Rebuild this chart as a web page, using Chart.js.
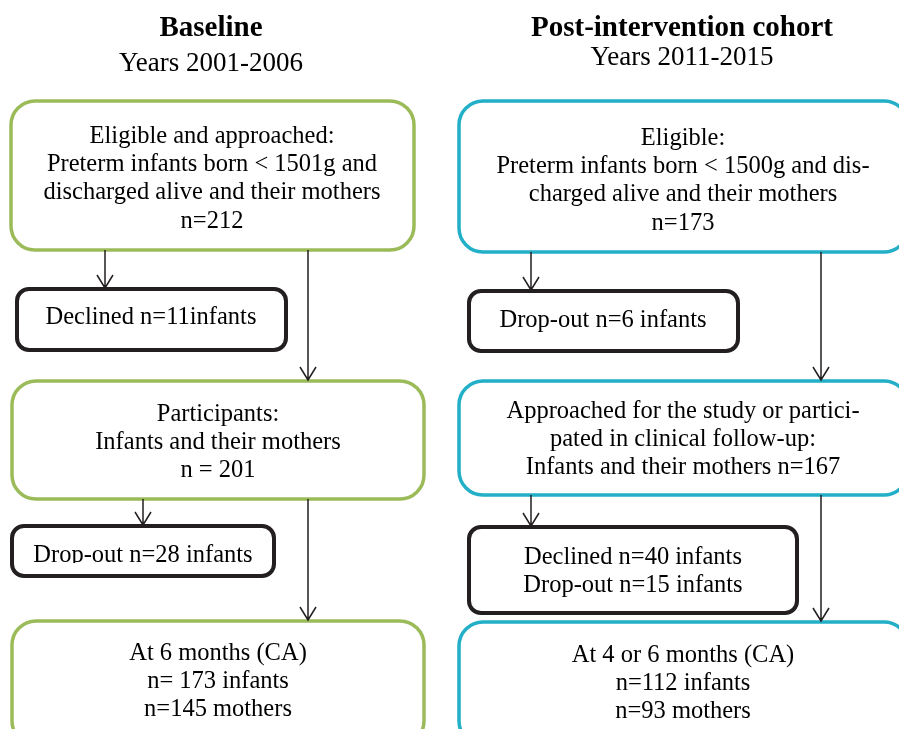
<!DOCTYPE html>
<html>
<head>
<meta charset="utf-8">
<script src="https://cdn.jsdelivr.net/npm/chart.js@4/dist/chart.umd.min.js"></script>
<style>
  html, body { margin: 0; padding: 0; background: #ffffff; }
  #wrap { width: 899px; height: 729px; }
</style>
</head>
<body>
<div id="wrap"><canvas id="flow" width="899" height="729"></canvas></div>
<script>
// Column headings
const cohortTitles = ["Baseline", "Post-intervention cohort"];
const cohortYears = ["Years 2001-2006", "Years 2011-2015"];

// Box texts, top to bottom, for each cohort
const baselineSteps = [
  ["Eligible and approached:", "Preterm infants born < 1501g and", "discharged alive and their mothers", "n=212"],
  ["Declined n=11infants"],
  ["Participants:", "Infants and their mothers", "n = 201"],
  ["Drop-out n=28 infants"],
  ["At 6 months (CA)", "n= 173 infants", "n=145 mothers"]
];
const postSteps = [
  ["Eligible:", "Preterm infants born < 1500g and dis-", "charged alive and their mothers", "n=173"],
  ["Drop-out n=6 infants"],
  ["Approached for the study or partici-", "pated in clinical follow-up:", "Infants and their mothers n=167"],
  ["Declined n=40 infants", "Drop-out n=15 infants"],
  ["At 4 or 6 months (CA)", "n=112 infants", "n=93 mothers"]
];

// Layout in diagram units (x 0..899, y 0..729 from top)
const FONT = "'Liberation Serif', 'Times New Roman', serif";
const GREEN = "#9bbb59";
const CYAN = "#22afc7";
const INK = "#231f20";

const headLayout = [
  { cx: 211, titleY: 36, yearsY: 71 },
  { cx: 682, titleY: 36, yearsY: 65 }
];
// x0, x1, y0, y1, text centre, first baseline, kind
const boxLayout = [
  [
    { x0: 11, x1: 414, y0: 101, y1: 250, cx: 212, ty: 143, kind: "main" },
    { x0: 17, x1: 286, y0: 289, y1: 350, cx: 151, ty: 324, kind: "side" },
    { x0: 12, x1: 424, y0: 381, y1: 499, cx: 218, ty: 421, kind: "main" },
    { x0: 12, x1: 274, y0: 526, y1: 576, cx: 143, ty: 562, kind: "side", clip: 563 },
    { x0: 12, x1: 424, y0: 621, y1: 745, cx: 218, ty: 660, kind: "main" }
  ],
  [
    { x0: 459, x1: 908, y0: 101, y1: 252, cx: 683, ty: 145, kind: "main" },
    { x0: 469, x1: 738, y0: 291, y1: 351, cx: 603, ty: 327, kind: "side" },
    { x0: 459, x1: 908, y0: 381, y1: 495, cx: 683, ty: 418, kind: "main" },
    { x0: 469, x1: 797, y0: 527, y1: 613, cx: 633, ty: 564, kind: "side" },
    { x0: 459, x1: 908, y0: 622, y1: 745, cx: 683, ty: 662, kind: "main" }
  ]
];
const arrowLayout = [
  [ { x: 105, y0: 250, y1: 288 }, { x: 308, y0: 250, y1: 380 },
    { x: 143, y0: 499, y1: 525 }, { x: 308, y0: 499, y1: 620 } ],
  [ { x: 531, y0: 252, y1: 290 }, { x: 821, y0: 252, y1: 380 },
    { x: 531, y0: 495, y1: 526 }, { x: 821, y0: 495, y1: 621 } ]
];
const columnColours = [GREEN, CYAN];

function roundedRect(ctx, x0, y0, x1, y1, r) {
  ctx.beginPath();
  ctx.moveTo(x0 + r, y0);
  ctx.lineTo(x1 - r, y0);
  ctx.arcTo(x1, y0, x1, y0 + r, r);
  ctx.lineTo(x1, y1 - r);
  ctx.arcTo(x1, y1, x1 - r, y1, r);
  ctx.lineTo(x0 + r, y1);
  ctx.arcTo(x0, y1, x0, y1 - r, r);
  ctx.lineTo(x0, y0 + r);
  ctx.arcTo(x0, y0, x0 + r, y0, r);
  ctx.closePath();
}

const flowPlugin = {
  id: "flow",
  afterDraw(chart) {
    const ctx = chart.ctx;
    const xs = chart.scales.x, ys = chart.scales.y;
    const px = v => xs.getPixelForValue(v);
    const py = v => ys.getPixelForValue(v);
    ctx.save();
    ctx.textAlign = "center";
    ctx.textBaseline = "alphabetic";
    ctx.fillStyle = "#000";

    // headings
    headLayout.forEach((h, i) => {
      ctx.font = "bold 29px " + FONT;
      ctx.fillText(cohortTitles[i], px(h.cx), py(h.titleY));
      ctx.font = "27px " + FONT;
      ctx.fillText(cohortYears[i], px(h.cx), py(h.yearsY));
    });

    // boxes
    [baselineSteps, postSteps].forEach((steps, col) => {
      steps.forEach((lines, k) => {
        const b = boxLayout[col][k];
        const main = b.kind === "main";
        roundedRect(ctx, px(b.x0), py(b.y0), px(b.x1), py(b.y1), main ? 24 : 12);
        ctx.lineWidth = main ? 3.5 : 4;
        ctx.strokeStyle = main ? columnColours[col] : INK;
        ctx.stroke();

        ctx.save();
        if (b.clip) {
          ctx.beginPath();
          ctx.rect(px(b.x0), py(b.y0), px(b.x1) - px(b.x0), py(b.clip) - py(b.y0));
          ctx.clip();
        }
        ctx.font = "24.5px " + FONT;
        ctx.fillStyle = "#000";
        lines.forEach((t, j) => {
          ctx.fillText(t, px(b.cx), py(b.ty + j * 28.2));
        });
        ctx.restore();
      });
    });

    // arrows
    ctx.strokeStyle = INK;
    ctx.lineWidth = 1.5;
    arrowLayout.flat().forEach(a => {
      const x = px(a.x), y0 = py(a.y0), y1 = py(a.y1);
      ctx.beginPath();
      ctx.moveTo(x, y0);
      ctx.lineTo(x, y1);
      ctx.moveTo(x - 8, y1 - 13);
      ctx.lineTo(x, y1);
      ctx.lineTo(x + 8, y1 - 13);
      ctx.stroke();
    });
    ctx.restore();
  }
};

new Chart(document.getElementById("flow"), {
  type: "scatter",
  data: { datasets: [{ data: [] }] },
  options: {
    responsive: false,
    animation: false,
    layout: { padding: 0 },
    plugins: { legend: { display: false }, tooltip: { enabled: false } },
    scales: {
      x: { type: "linear", min: 0, max: 899, display: false },
      y: { type: "linear", min: 0, max: 729, reverse: true, display: false }
    }
  },
  plugins: [flowPlugin]
});
</script>
</body>
</html>
